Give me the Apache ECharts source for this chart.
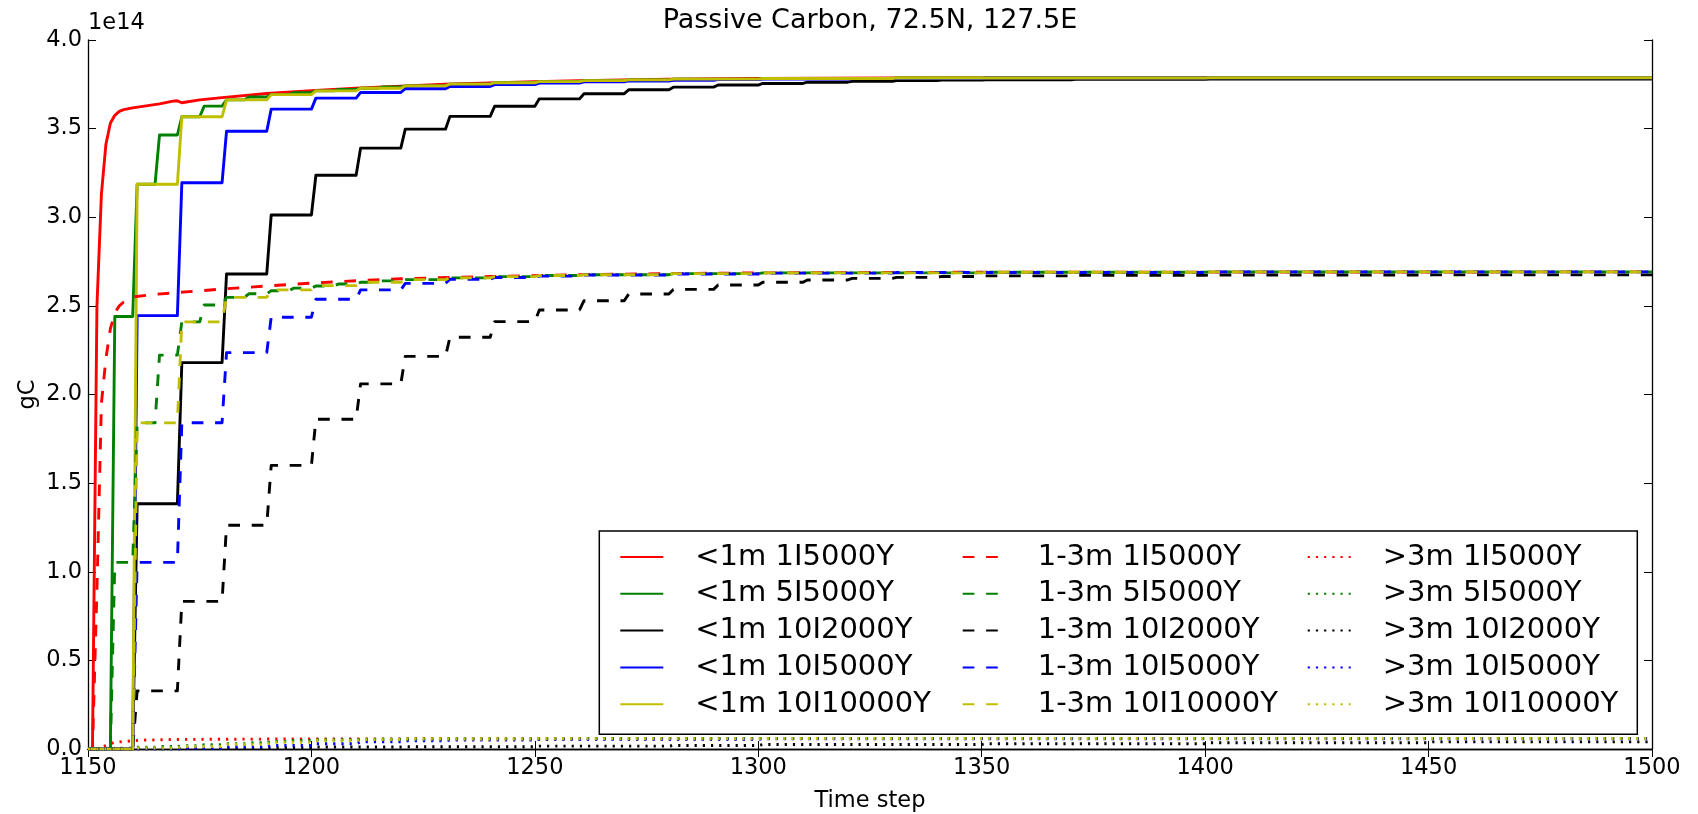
<!DOCTYPE html>
<html lang="en">
<head>
  <meta charset="UTF-8">
  <title>Passive Carbon, 72.5N, 127.5E</title>
  <script src="https://cdn.jsdelivr.net/npm/echarts@6/dist/echarts.min.js"></script>
  <style>html, body { margin: 0; padding: 0; background: #fff; }</style>
</head>
<body>
  <div id="main" style="width:1698px;height:814px"></div>
  <script>
    // axes (y in units of 1e14 gC)
    var xMin = 1150, xMax = 1500, xStep = 50
    var yMin = 0, yMax = 4.0, yStep = 0.5

    var runNames = ['1I5000Y', '5I5000Y', '10I2000Y', '10I5000Y', '10I10000Y']
    var runColors = ['#ff0000', '#008000', '#000000', '#0000ff', '#bfbf00']

    // 1I runs are annual: points
    // the other runs step: [time step of the jump, value reached]

    // <1m layer
    var top1I = [[1150, 0], [1151, 0], [1152, 2.5], [1153, 3.13], [1154, 3.41], [1155, 3.53], [1156, 3.575], [1157, 3.597],
      [1158, 3.607], [1160, 3.617], [1163, 3.628], [1166, 3.64], [1169, 3.655], [1170, 3.657], [1171, 3.646], [1172, 3.65],
      [1175, 3.662], [1180, 3.675], [1190, 3.698], [1200, 3.714], [1210, 3.728], [1220, 3.74], [1230, 3.75], [1240, 3.758],
      [1250, 3.765], [1260, 3.771], [1270, 3.775], [1280, 3.779], [1300, 3.783], [1330, 3.786], [1400, 3.787], [1500, 3.787]]
    var top5I = [[1155, 2.44], [1160, 3.186], [1165, 3.464], [1170, 3.567], [1175, 3.627], [1180, 3.662], [1185, 3.678],
      [1190, 3.692], [1195, 3.703], [1200, 3.713], [1205, 3.721], [1210, 3.728], [1215, 3.735], [1220, 3.741], [1230, 3.751],
      [1240, 3.759], [1250, 3.765], [1260, 3.771], [1270, 3.775], [1280, 3.779], [1300, 3.783], [1330, 3.786], [1400, 3.787]]
    var top10I2000 = [[1160, 1.384], [1170, 2.18], [1180, 2.68], [1190, 3.013], [1200, 3.237], [1210, 3.39], [1220, 3.497],
      [1230, 3.569], [1240, 3.626], [1250, 3.668], [1260, 3.697], [1270, 3.719], [1280, 3.734], [1290, 3.746], [1300, 3.755],
      [1310, 3.762], [1320, 3.767], [1330, 3.771], [1340, 3.774], [1350, 3.776], [1370, 3.778], [1400, 3.779]]
    var top10I5000 = [[1160, 2.445], [1170, 3.195], [1180, 3.485], [1190, 3.61], [1200, 3.672], [1210, 3.704], [1220, 3.725],
      [1230, 3.738], [1240, 3.748], [1250, 3.757], [1260, 3.764], [1270, 3.769], [1280, 3.773], [1290, 3.777], [1300, 3.78],
      [1320, 3.783], [1350, 3.786], [1400, 3.787]]
    var top10I10000 = [[1160, 3.186], [1170, 3.567], [1180, 3.662], [1190, 3.692], [1200, 3.713], [1210, 3.728], [1220, 3.741],
      [1230, 3.751], [1240, 3.759], [1250, 3.765], [1260, 3.771], [1270, 3.775], [1280, 3.779], [1300, 3.783], [1330, 3.786],
      [1400, 3.787]]

    // 1-3m layer
    var mid1I = [[1150, 0], [1151, 0], [1152, 0.9], [1153, 1.95], [1154, 2.2], [1155, 2.37], [1156, 2.46], [1157, 2.5],
      [1158, 2.522], [1160, 2.55], [1165, 2.565], [1170, 2.575], [1180, 2.595], [1190, 2.612], [1200, 2.628], [1210, 2.642],
      [1220, 2.653], [1240, 2.666], [1260, 2.676], [1280, 2.682], [1300, 2.686], [1350, 2.69], [1500, 2.692]]
    var mid5I = [[1155, 1.053], [1160, 1.84], [1165, 2.222], [1170, 2.41], [1175, 2.505], [1180, 2.548], [1185, 2.568],
      [1190, 2.585], [1195, 2.6], [1200, 2.612], [1205, 2.623], [1210, 2.633], [1215, 2.641], [1220, 2.648], [1230, 2.658],
      [1240, 2.665], [1250, 2.671], [1260, 2.676], [1280, 2.682], [1300, 2.686], [1350, 2.69], [1400, 2.692]]
    var mid10I2000 = [[1160, 0.328], [1170, 0.833], [1180, 1.262], [1190, 1.6], [1200, 1.86], [1210, 2.06], [1220, 2.215],
      [1230, 2.323], [1240, 2.411], [1250, 2.477], [1260, 2.529], [1270, 2.567], [1280, 2.593], [1290, 2.618], [1300, 2.633],
      [1310, 2.646], [1320, 2.655], [1330, 2.661], [1340, 2.666], [1350, 2.669], [1370, 2.672], [1400, 2.674], [1450, 2.675]]
    var mid10I5000 = [[1160, 1.053], [1170, 1.841], [1180, 2.236], [1190, 2.436], [1200, 2.537], [1210, 2.59], [1220, 2.627],
      [1230, 2.65], [1240, 2.66], [1250, 2.668], [1260, 2.674], [1280, 2.68], [1300, 2.685], [1330, 2.688], [1400, 2.692]]
    var mid10I10000 = [[1160, 1.84], [1170, 2.41], [1180, 2.548], [1190, 2.59], [1200, 2.614], [1210, 2.633], [1220, 2.648],
      [1230, 2.658], [1240, 2.665], [1250, 2.671], [1260, 2.676], [1280, 2.682], [1300, 2.686], [1350, 2.69], [1400, 2.692]]

    // >3m layer
    var deep1I = [[1150, 0], [1152, 0], [1153, 0.008], [1154, 0.02], [1155, 0.03], [1156, 0.038], [1158, 0.042], [1160, 0.046],
      [1162, 0.05], [1170, 0.054], [1200, 0.057], [1300, 0.059], [1500, 0.06]]
    var deep5I = [[1155, 0.004], [1160, 0.01], [1165, 0.014], [1170, 0.018], [1175, 0.024], [1180, 0.03], [1185, 0.036],
      [1190, 0.042], [1195, 0.048], [1200, 0.052], [1210, 0.055], [1230, 0.057], [1260, 0.059]]
    var deep10I2000 = [[1170, 0.002], [1180, 0.004], [1190, 0.008], [1200, 0.011], [1220, 0.013], [1250, 0.016], [1280, 0.02],
      [1300, 0.025], [1350, 0.03], [1400, 0.035], [1450, 0.04]]
    var deep10I5000 = [[1160, 0.001], [1170, 0.004], [1180, 0.012], [1190, 0.02], [1200, 0.03], [1210, 0.04], [1220, 0.046],
      [1230, 0.05], [1250, 0.054], [1300, 0.057], [1350, 0.058]]
    var deep10I10000 = [[1160, 0.006], [1170, 0.014], [1180, 0.026], [1190, 0.038], [1200, 0.048], [1210, 0.054], [1220, 0.056],
      [1250, 0.058], [1300, 0.059]]

    // a jump from one output to the next takes one time step
    function stairs(jumps) {
      var pts = [[xMin, 0]], prev = 0
      jumps.forEach(function (j) {
        pts.push([j[0], prev], [j[0] + 1, j[1]])
        prev = j[1]
      })
      pts.push([xMax, prev])
      return pts
    }

    var layers = [
      { prefix: '<1m ', dash: 'solid', runs: [top1I, stairs(top5I), stairs(top10I2000), stairs(top10I5000), stairs(top10I10000)] },
      { prefix: '1-3m ', dash: [11.7, 11.7], runs: [mid1I, stairs(mid5I), stairs(mid10I2000), stairs(mid10I5000), stairs(mid10I10000)] },
      { prefix: '>3m ', dash: [2.2, 6], runs: [deep1I, stairs(deep5I), stairs(deep10I2000), stairs(deep10I5000), stairs(deep10I10000)] }
    ]

    var font = 'DejaVu Sans'
    var series = []
    var legendCols = []
    layers.forEach(function (layer) {
      var names = []
      layer.runs.forEach(function (pts, i) {
        var name = layer.prefix + runNames[i]
        names.push(name)
        series.push({
          name: name,
          type: 'line',
          data: pts,
          symbol: 'none',
          silent: true,
          color: runColors[i],
          lineStyle: { color: runColors[i], width: 2.9, type: layer.dash, join: 'round' },
          emphasis: { disabled: true }
        })
      })
      legendCols.push(names)
    })

    // one legend per column, all inside one frame
    var colLeft = [619.3, 961.7, 1306.7]
    var legends = legendCols.map(function (names, c) {
      return {
        data: names,
        orient: 'vertical',
        left: colLeft[c], top: 542.5,
        padding: 0,
        itemGap: 7.8,
        itemWidth: 43, itemHeight: 30,
        selectedMode: false,
        itemStyle: { color: 'rgba(0,0,0,0)', borderWidth: 0, opacity: 0 },
        textStyle: { fontFamily: font, fontSize: 29, color: '#000', padding: [0, 0, 0, 27] }
      }
    })

    var axisLine = { show: true, lineStyle: { color: '#000', width: 1.3 } }
    var tick = { show: true, inside: true, length: 8, lineStyle: { color: '#000', width: 1 } }
    var plain = function (v) { return String(v) }

    var myChart = echarts.init(document.getElementById('main'))
    myChart.setOption({
      animation: false,
      backgroundColor: '#fff',
      textStyle: { fontFamily: font },
      title: [
        { text: 'Passive Carbon, 72.5N, 127.5E', left: 870, top: 7, textAlign: 'center', padding: 0,
          textStyle: { fontFamily: font, fontSize: 27, fontWeight: 'normal', color: '#000' } },
        { text: '1e14', left: 88, top: 12, padding: 0,
          textStyle: { fontFamily: font, fontSize: 22.5, fontWeight: 'normal', color: '#000' } }
      ],
      graphic: [{
        type: 'rect', z: 3,
        shape: { x: 599.3, y: 531, width: 1038, height: 203.3 },
        style: { fill: '#fff', stroke: '#000', lineWidth: 1.5 }
      }],
      grid: { left: 88, right: 46, top: 40, bottom: 65, containLabel: false, outerBoundsMode: 'none' },
      legend: legends,
      xAxis: [
        { type: 'value', min: xMin, max: xMax, interval: xStep, position: 'bottom',
          name: 'Time step', nameLocation: 'middle', nameGap: 41, nameMoveOverlap: false,
          nameTextStyle: { fontFamily: font, fontSize: 22.5, color: '#000' },
          axisLine: axisLine, axisTick: tick, splitLine: { show: false },
          axisLabel: { fontFamily: font, fontSize: 22.5, color: '#000', margin: 8, formatter: plain } },
        { type: 'value', min: xMin, max: xMax, interval: xStep, position: 'top',
          axisLine: axisLine, axisTick: tick, splitLine: { show: false }, axisLabel: { show: false } }
      ],
      yAxis: [
        { type: 'value', min: yMin, max: yMax, interval: yStep, position: 'left',
          name: 'gC', nameLocation: 'middle', nameGap: 48, nameRotate: 90, nameMoveOverlap: false,
          nameTextStyle: { fontFamily: font, fontSize: 22.5, color: '#000' },
          axisLine: axisLine, axisTick: tick, splitLine: { show: false },
          axisLabel: { fontFamily: font, fontSize: 22.5, color: '#000', margin: 6,
            formatter: function (v) { return v.toFixed(1) } } },
        { type: 'value', min: yMin, max: yMax, interval: yStep, position: 'right',
          axisLine: axisLine, axisTick: tick, splitLine: { show: false }, axisLabel: { show: false } }
      ],
      series: series
    })
  </script>
</body>
</html>
